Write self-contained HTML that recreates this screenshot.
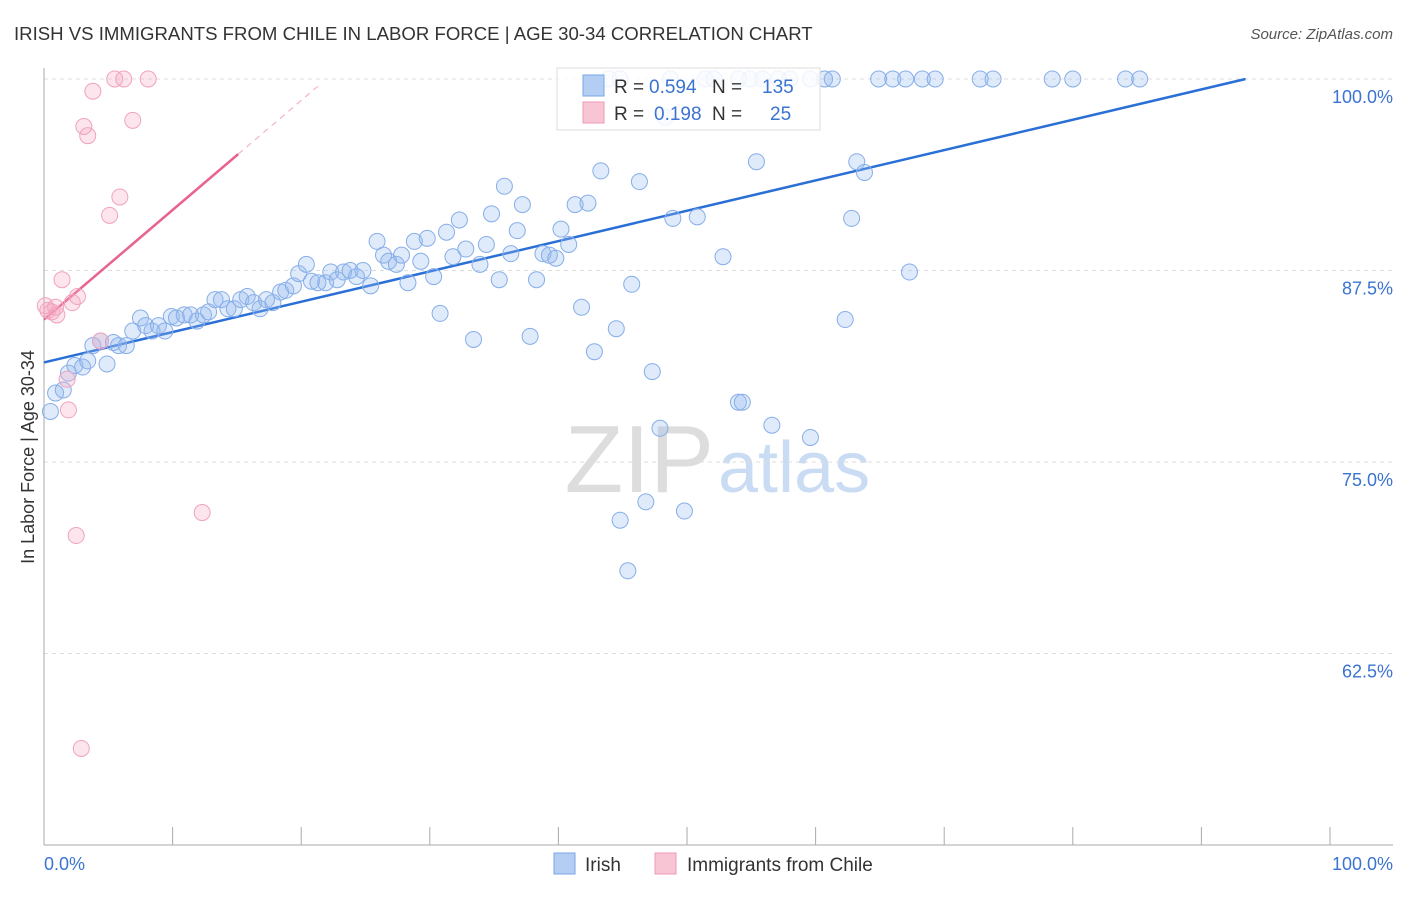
<!DOCTYPE html>
<html><head><meta charset="utf-8"><style>
body{margin:0;background:#fff;font-family:"Liberation Sans",sans-serif;}
svg text{font-family:"Liberation Sans",sans-serif;}
</style></head><body>
<svg id="chart" width="1406" height="892">
<text x="14" y="40" font-size="18.6" fill="#333">IRISH VS IMMIGRANTS FROM CHILE IN LABOR FORCE | AGE 30-34 CORRELATION CHART</text>
<text x="1393" y="39" font-size="15" fill="#555" font-style="italic" text-anchor="end">Source: ZipAtlas.com</text>
<text x="714" y="492" font-size="96" fill="#ddd" text-anchor="end" font-family="Liberation Serif">ZIP</text>
<text x="718" y="492" font-size="72" fill="#c9dcf3">atlas</text>
<g id="grid"></g>
<g id="axes"></g>
<g id="lines"></g>
<g id="pts"></g>
<text transform="translate(34,457) rotate(-90)" font-size="18" fill="#333" text-anchor="middle">In Labor Force | Age 30-34</text>
<text x="44" y="870" font-size="18" fill="#3b73d1">0.0%</text>
<text x="1393" y="870" font-size="18" fill="#3b73d1" text-anchor="end">100.0%</text>
<g>
<rect x="557" y="68" width="263" height="62" fill="#fff" fill-opacity="0.85" stroke="#ddd"/>
<rect x="583" y="75" width="21" height="21" fill="#b3cdf3" stroke="#7aa5e8"/>
<rect x="583" y="102" width="21" height="21" fill="#f8c5d4" stroke="#ef9ab5"/>
<text x="614" y="93" font-size="19" fill="#333">R =</text>
<text x="649" y="93" font-size="19" fill="#3b73d1">0.594</text>
<text x="712" y="93" font-size="19" fill="#333">N =</text>
<text x="762" y="93" font-size="19" fill="#3b73d1">135</text>
<text x="614" y="120" font-size="19" fill="#333">R =</text>
<text x="654" y="120" font-size="19" fill="#3b73d1">0.198</text>
<text x="712" y="120" font-size="19" fill="#333">N =</text>
<text x="770" y="120" font-size="19" fill="#3b73d1">25</text>
</g>
<g>
<rect x="554" y="853" width="21" height="21" fill="#b3cdf3" stroke="#7aa5e8"/>
<text x="585" y="871" font-size="19" fill="#333">Irish</text>
<rect x="655" y="853" width="21" height="21" fill="#f8c5d4" stroke="#ef9ab5"/>
<text x="687" y="871" font-size="19" fill="#333">Immigrants from Chile</text>
</g>
</svg>
<script>
const yTicks=[100,87.5,75,62.5];
const yTickLabels=["100.0%","87.5%","75.0%","62.5%"];
const xTicks=[0,10,20,30,40,50,60,70,80,90,100];
const irishX=[0.5,0.9,1.5,1.9,2.4,3.0,3.4,3.8,4.4,4.9,5.4,5.8,6.4,6.9,7.5,7.9,8.4,8.9,9.4,9.9,10.3,10.9,11.4,11.9,12.4,12.8,13.3,13.8,14.3,14.8,15.3,15.8,16.3,16.8,17.3,17.8,18.4,18.8,19.4,19.8,20.4,20.8,21.3,21.9,22.3,22.8,23.3,23.8,24.3,24.8,25.4,25.9,26.4,26.8,27.4,27.8,28.3,28.8,29.3,29.8,30.3,30.8,31.3,31.8,32.3,32.8,33.4,33.9,34.4,34.8,35.4,35.8,36.3,36.8,37.2,37.8,38.3,38.8,39.3,39.8,40.2,40.8,41.3,41.8,42.3,42.8,43.3,44.5,44.8,45.4,45.7,46.3,46.8,47.3,47.9,48.3,48.9,49.8,50.8,52.8,54.0,54.3,55.4,56.6,59.6,62.3,62.8,63.2,63.8,67.3,
43.9,44.8,48.7,51.4,52.1,54.0,54.9,55.9,57.1,58.0,59.6,60.7,61.3,64.9,66.0,67.0,68.3,69.3,72.8,73.8,78.4,80.0,84.1,85.2];
const irishY=[78.3,79.5,79.7,80.8,81.3,81.2,81.6,82.6,82.9,81.4,82.8,82.6,82.6,83.55,84.4,83.9,83.55,83.9,83.55,84.5,84.4,84.6,84.6,84.2,84.6,84.8,85.6,85.6,85.0,85.0,85.6,85.8,85.4,85.0,85.6,85.4,86.1,86.2,86.5,87.3,87.9,86.8,86.7,86.7,87.4,86.9,87.4,87.5,87.1,87.5,86.5,89.4,88.5,88.1,87.9,88.5,86.7,89.4,88.1,89.6,87.1,84.7,90.0,88.4,90.8,88.9,83.0,87.9,89.2,91.2,86.9,93.0,88.6,90.1,91.8,83.2,86.9,88.6,88.5,88.3,90.2,89.2,91.8,85.1,91.9,82.2,94.0,83.7,71.2,67.9,86.6,93.3,72.4,80.9,77.2,97.5,90.9,71.8,91.0,88.4,78.9,78.9,94.6,77.4,76.6,84.3,90.9,94.6,93.9,87.4,
100,100,100,100,100,100,100,100,100,100,100,100,100,100,100,100,100,100,100,100,100,100,100,100];
const chileX=[0.3,0.6,1.0,1.4,1.8,1.9,2.2,2.6,2.5,2.9,3.1,3.4,3.8,4.4,5.1,5.5,5.9,6.2,6.9,8.1,12.3,0.9,0.1];
const chileY=[84.9,84.8,84.6,86.9,80.4,78.4,85.4,85.8,70.2,56.3,96.9,96.3,99.2,82.9,91.1,100,92.3,100,97.3,100,71.7,85.1,85.2];
const irishTrend=[81.5,0.198];
const chileTrend=[84.3,0.715];
const NS="http://www.w3.org/2000/svg";
function sx(v){return 44+v*12.86;}
function sy(v){return 79+(100-v)*15.32;}
function mk(tag,attrs,parent){const e=document.createElementNS(NS,tag);for(const k in attrs)e.setAttribute(k,attrs[k]);parent.appendChild(e);return e;}
const grid=document.getElementById('grid'),axes=document.getElementById('axes'),lines=document.getElementById('lines'),pts=document.getElementById('pts');
yTicks.forEach((t,i)=>{
 const l=mk('line',{x1:44,x2:1393,y1:sy(t),y2:sy(t),stroke:'#ddd','stroke-dasharray':'4,4'},grid);
 
 
 const tx=mk('text',{x:1393,y:sy(t)+24,'font-size':18,fill:'#3b73d1','text-anchor':'end'},grid);
 tx.textContent=yTickLabels[i];
 
 
});
const ya=mk('line',{x1:44,x2:44,y1:68,y2:845,stroke:'#aaa'},axes);


const xa=mk('line',{x1:44,x2:1393,y1:845,y2:845,stroke:'#aaa'},axes);


xTicks.forEach(t=>{
 const l=mk('line',{x1:sx(t),x2:sx(t),y1:827,y2:845,stroke:'#aaa'},axes);
 
 
});
function dot(x,y,fill,stroke,name){
 const c=mk('circle',{cx:sx(x),cy:sy(y),r:8,fill:fill,stroke:stroke,'stroke-width':1},pts);
 
 
}
irishX.forEach((x,i)=>dot(x,irishY[i],'rgba(150,185,240,0.3)','#86aee9','irish-point'));
chileX.forEach((x,i)=>dot(x,chileY[i],'rgba(245,170,195,0.3)','#f0a3bc','chile-point'));
const bx2=(100-irishTrend[0])/irishTrend[1];
const bl=mk('line',{x1:sx(0),y1:sy(irishTrend[0]),x2:sx(bx2),y2:sy(100),stroke:'#2a6fd6','stroke-width':2.5},lines);


const pl=mk('line',{x1:sx(0),y1:sy(chileTrend[0]),x2:sx(15.1),y2:sy(chileTrend[0]+chileTrend[1]*15.1),stroke:'#e8638e','stroke-width':2.5},lines);


const pd=mk('line',{x1:sx(15.1),y1:sy(chileTrend[0]+chileTrend[1]*15.1),x2:sx(21.3),y2:sy(chileTrend[0]+chileTrend[1]*21.3),stroke:'#f0a8bf','stroke-width':1,'stroke-dasharray':'6,5'},lines);


</script>
</body></html>
